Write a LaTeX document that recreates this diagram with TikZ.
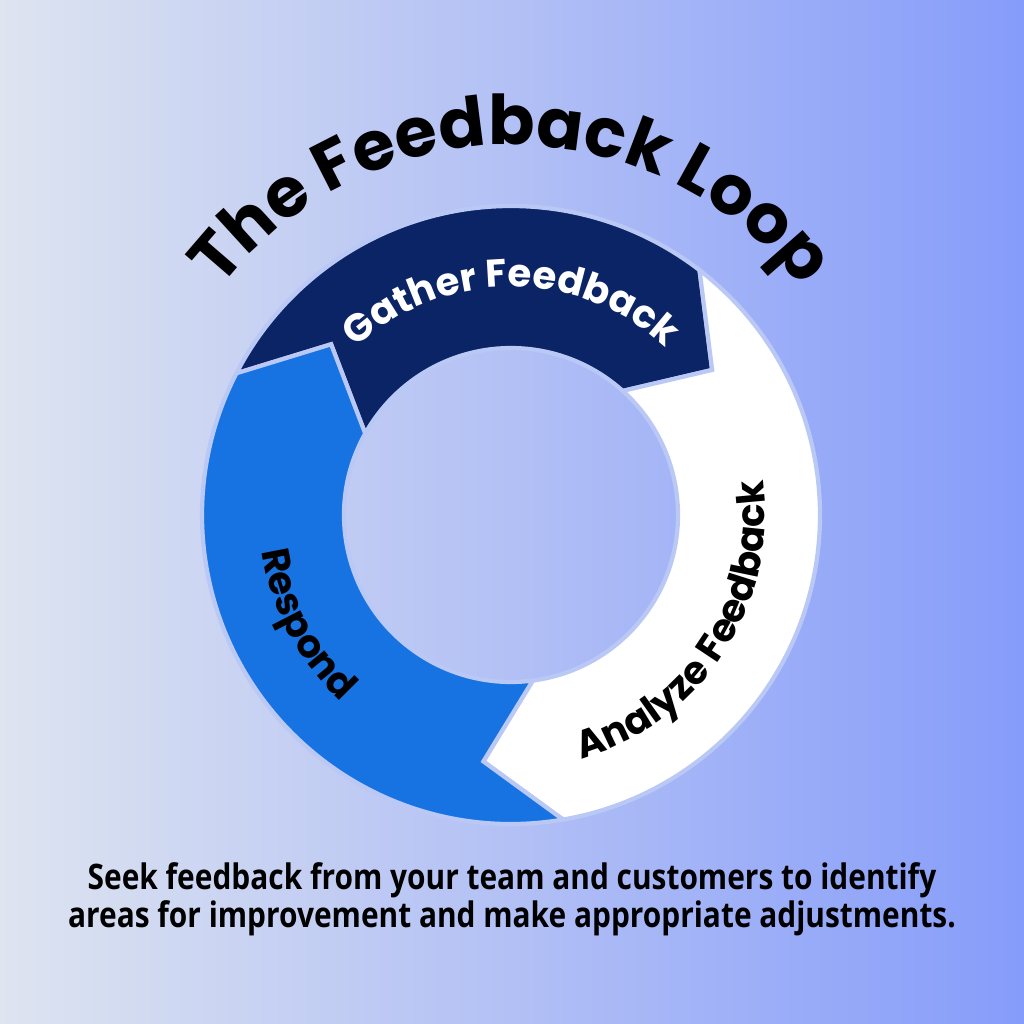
\documentclass[tikz,border=0pt]{standalone}
\usepackage{fontspec}
\newfontfamily\poppins{Poppins}
\newfontfamily\opensans[FakeStretch=0.85]{Open Sans}
\definecolor{fbnavy}{RGB}{11,36,102}
\definecolor{fbblue}{RGB}{24,115,226}
\definecolor{fbedge}{RGB}{186,200,245}
\definecolor{bgleft}{RGB}{222,228,240}
\definecolor{bgright}{RGB}{134,156,250}
\usetikzlibrary{decorations.text}

\begin{document}
\begin{tikzpicture}[
  seg/.style={draw=fbedge, line width=1.2pt, line join=miter},
  ringtext/.style={decorate, decoration={text along path, text align=center, text={#1}}}
]
  % Background
  \shade[left color=bgleft, right color=bgright] (0,0) rectangle (10.24,10.24);
  \useasboundingbox (0,0) rectangle (10.24,10.24);

  \begin{scope}[shift={(5.11,5.09)}]
  % Segment 1: Gather Feedback
  \filldraw[fill=fbnavy, seg] (152.7:3.09) arc[start angle=152.7, end angle=52.4, radius=3.09]
    -- (35.8:2.48) -- (48:1.67) arc[start angle=48, end angle=150.8, radius=1.67]
    -- (136.5:2.48) -- cycle;

  % Segment 2: Analyze Feedback
  \filldraw[fill=white, seg] (52.4:3.09) arc[start angle=52.4, end angle=-80.3, radius=3.09]
    -- (-96.4:2.48) -- (-82.5:1.67) arc[start angle=-82.5, end angle=48, radius=1.67]
    -- (35.8:2.48) -- cycle;

  % Segment 3: Respond
  \filldraw[fill=fbblue, seg] (-80.3:3.09) arc[start angle=-80.3, end angle=-207.3, radius=3.09]
    -- (-223.5:2.48) -- (-209.2:1.67) arc[start angle=-209.2, end angle=-82.5, radius=1.67]
    -- (-96.4:2.48) -- cycle;

  % Labels on the ring
  \path[ringtext={|\poppins\bfseries\fontsize{11pt}{12pt}\selectfont\color{white}|Gather Feedback}]
    (170:2.28) arc[start angle=170, end angle=10, radius=2.28];
  \path[ringtext={|\poppins\bfseries\fontsize{11pt}{12pt}\selectfont\color{black}|Analyze Feedback}]
    (-113:2.54) arc[start angle=-113, end angle=47, radius=2.54];
  \path[ringtext={|\poppins\bfseries\fontsize{11pt}{12pt}\selectfont\color{black}|Respond}]
    (148:2.52) arc[start angle=148, end angle=268, radius=2.52];
  \end{scope}

  % Title
  \begin{scope}[shift={(5.11,5.13)}]
  \path[ringtext={|\poppins\bfseries\fontsize{19.5pt}{20pt}\selectfont\color{black}|The Feedback Loop}]
    (175:3.66) arc[start angle=175, end angle=5, radius=3.66];
  \end{scope}

  % Caption
  \node[font=\opensans\bfseries\fontsize{10pt}{10.8pt}\selectfont, align=center] (caption) at (5.12,1.25)
    {Seek feedback from your team and customers to identify\\areas for improvement and make appropriate adjustments.};
\end{tikzpicture}
\end{document}
